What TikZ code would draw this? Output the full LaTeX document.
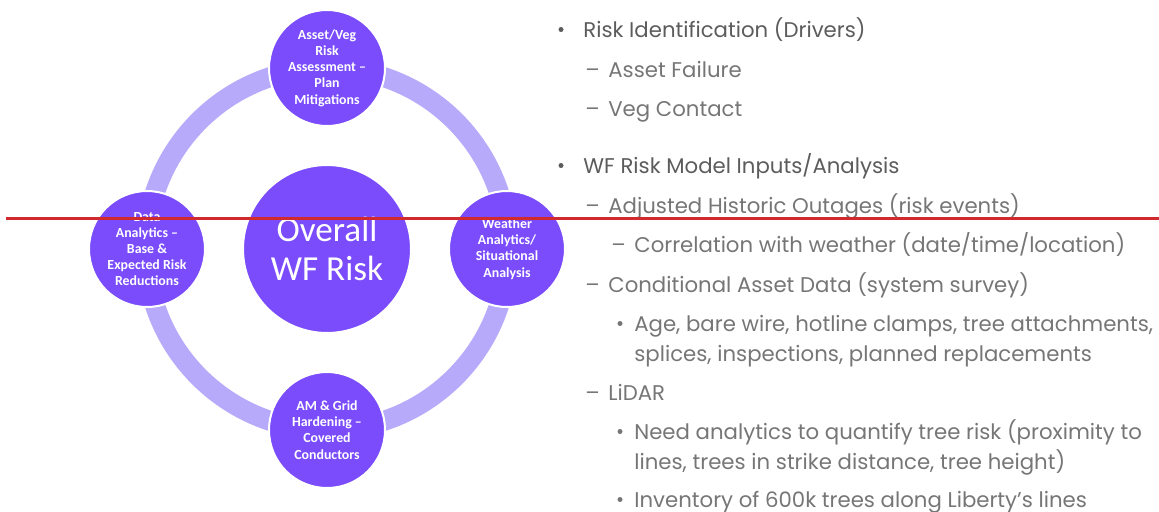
\documentclass[tikz,border=0pt]{standalone}
\usepackage{fontspec}
\setmainfont{Poppins}
\newfontfamily\circfont{Carlito}
\definecolor{ringlilac}{RGB}{184,170,250}
\definecolor{stepviolet}{RGB}{122,76,251}
\definecolor{markred}{RGB}{208,42,46}
\definecolor{headgray}{RGB}{92,92,92}
\definecolor{subgray}{RGB}{118,118,118}

\begin{document}
\begin{tikzpicture}[
  x=0.02cm, y=-0.02cm,
  stepcircle/.style={circle, draw=white, line width=0.4mm, fill=stepviolet,
                     text=white, minimum size=2.32cm, inner sep=0pt,
                     align=center, font=\circfont\bfseries\fontsize{7.9}{9.2}\selectfont},
  hubcircle/.style={circle, draw=white, line width=0.4mm, fill=stepviolet,
                    text=white, minimum size=3.36cm, inner sep=0pt,
                    align=center, font=\circfont\fontsize{20}{22.5}\selectfont},
  headtext/.style={anchor=base west, inner sep=0pt, text=headgray,
                   font=\fontsize{12.1}{14}\selectfont},
  subtext/.style={anchor=base west, inner sep=0pt, text=subgray,
                  font=\fontsize{12.1}{14}\selectfont},
  dotmark/.style={circle, fill=#1, minimum size=1mm, inner sep=0pt}
]
  \useasboundingbox (0,0) rectangle (1159,511);

  % ring behind the steps
  \draw[ringlilac, line width=0.4cm] (327,249) circle[radius=181];

  \node[hubcircle] (hub) at (327,249) {Overall\\WF Risk};
  \node[stepcircle] (assess) at (327,68) {Asset/Veg\\Risk\\Assessment –\\Plan\\Mitigations};
  \node[stepcircle] (weather) at (507,249) {Weather\\Analytics/\\Situational\\Analysis};
  \node[stepcircle] (harden) at (327,430) {AM \& Grid\\Hardening –\\Covered\\Conductors};
  \node[stepcircle] (data) at (147,249) {Data\\Analytics –\\Base \&\\Expected Risk\\Reductions};

  % bullet list
  \node[headtext] (t1) at (583,37) {Risk Identification (Drivers)};
  \node[subtext] (t2) at (608,77) {Asset Failure};
  \node[subtext] (t3) at (608,116) {Veg Contact};
  \node[headtext] (t4) at (583,173) {WF Risk Model Inputs/Analysis};
  \node[subtext] (t5) at (608,213) {Adjusted Historic Outages (risk events)};
  \node[subtext] (t6) at (634,252) {Correlation with weather (date/time/location)};
  \node[subtext] (t7) at (608,292) {Conditional Asset Data (system survey)};
  \node[subtext] (t8) at (634,331) {Age, bare wire, hotline clamps, tree attachments,};
  \node[subtext] (t9) at (634,361) {splices, inspections, planned replacements};
  \node[subtext] (t10) at (608,400) {LiDAR};
  \node[subtext] (t11) at (634,439) {Need analytics to quantify tree risk (proximity to};
  \node[subtext] (t12) at (634,469) {lines, trees in strike distance, tree height)};
  \node[subtext] (t13) at (634,507) {Inventory of 600k trees along Liberty’s lines};

  \foreach \t in {t1, t4} {
    \node[dotmark=headgray] at ([xshift=-0.44cm, yshift=0.15cm]\t.base west) {};
  }
  \foreach \t in {t2, t3, t5, t6, t7, t10} {
    \node[subtext] at ([xshift=-0.46cm]\t.base west) {–};
  }
  \foreach \t in {t8, t11, t13} {
    \node[dotmark=subgray] at ([xshift=-0.28cm, yshift=0.15cm]\t.base west) {};
  }

  \draw[markred, line width=0.07cm] (6,218.5) -- (1159,218.5);
\end{tikzpicture}
\end{document}
